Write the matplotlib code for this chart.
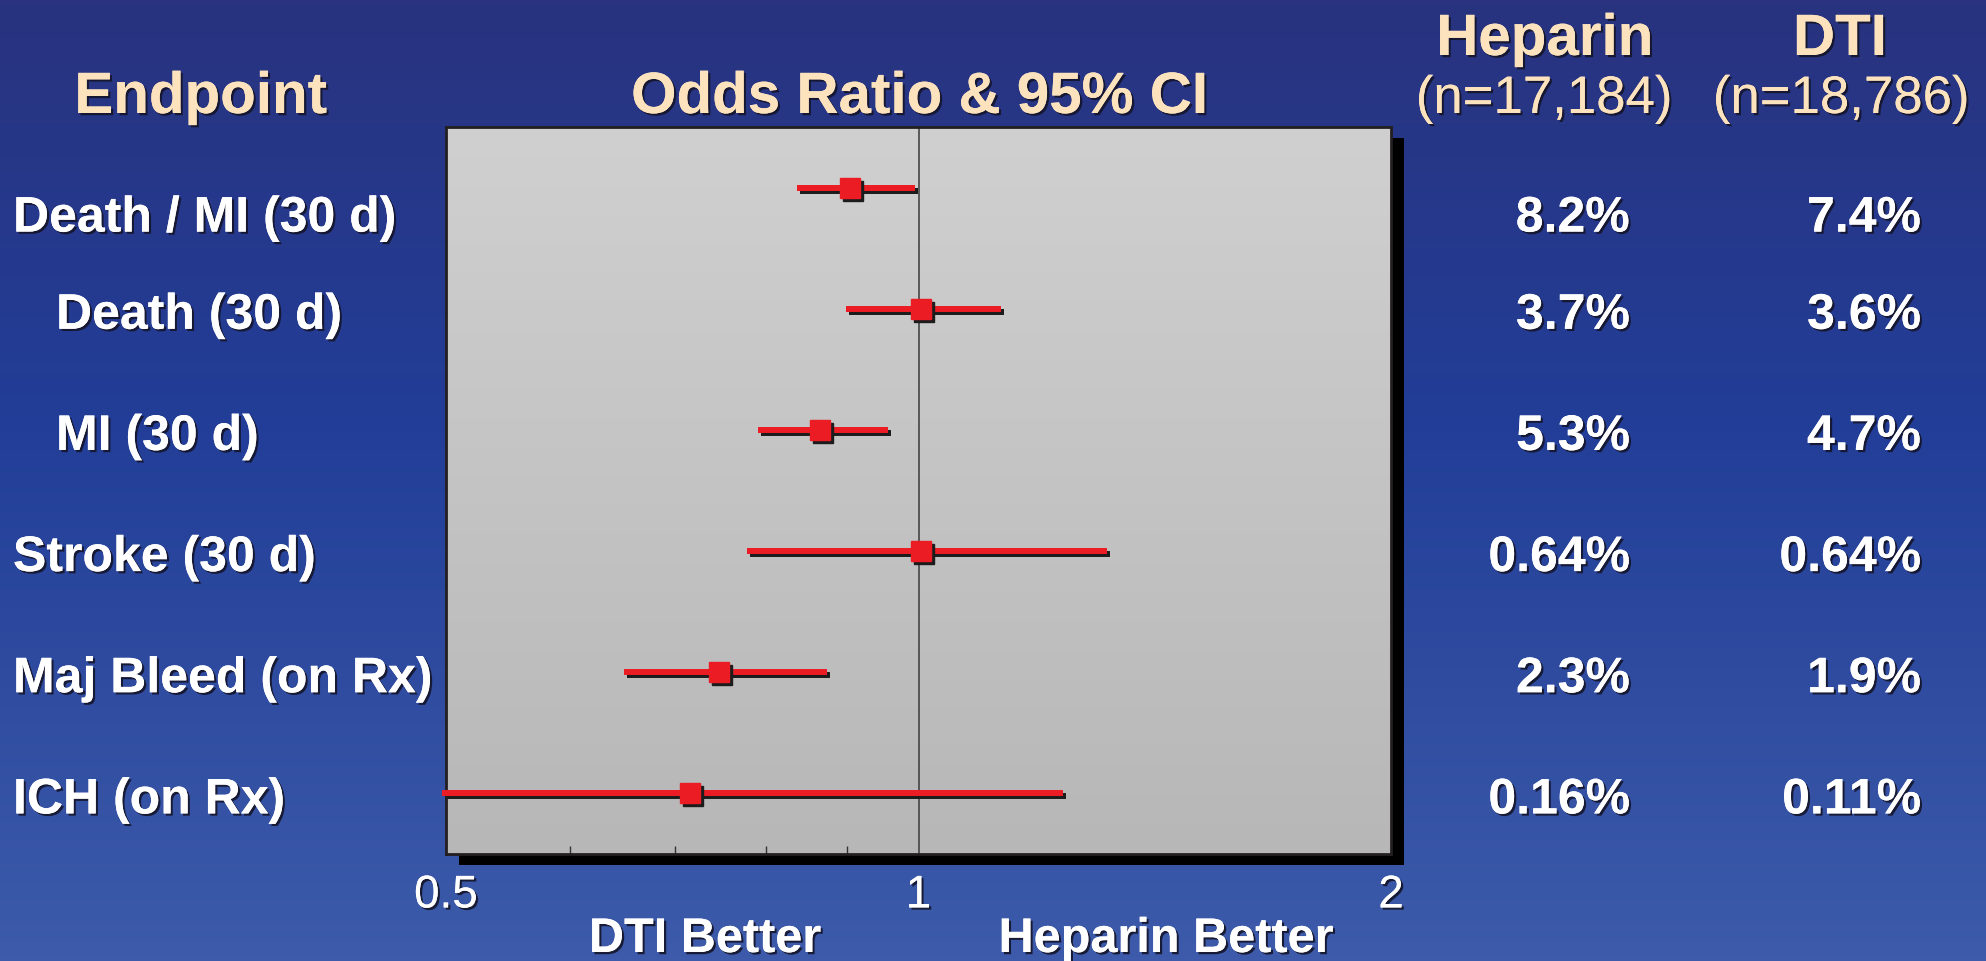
import numpy as np
import matplotlib
matplotlib.use('Agg')
import matplotlib.pyplot as plt
import matplotlib.patheffects as pe
import matplotlib.transforms as mtransforms
from matplotlib.colors import LinearSegmentedColormap
from matplotlib.patches import Rectangle
from matplotlib.ticker import NullFormatter

# values
endpoints = ['Death / MI (30 d)', 'Death (30 d)', 'MI (30 d)',
             'Stroke (30 d)', 'Maj Bleed (on Rx)', 'ICH (on Rx)']
indented = [False, True, True, False, False, False]
odds_ratio = [0.904, 1.003, 0.866, 1.003, 0.746, 0.715]
ci_low = [0.837, 0.899, 0.790, 0.778, 0.649, 0.497]
ci_high = [0.995, 1.128, 0.956, 1.319, 0.875, 1.237]
heparin_pct = ['8.2%', '3.7%', '5.3%', '0.64%', '2.3%', '0.16%']
dti_pct = ['7.4%', '3.6%', '4.7%', '0.64%', '1.9%', '0.11%']
heparin_n = '(n=17,184)'
dti_n = '(n=18,786)'
x_ticks = [0.5, 1, 2]
x_ticklabels = ['0.5', '1', '2']
x_minor_ticks = [0.6, 0.7, 0.8, 0.9]

# colours
cream = '#FCE3BE'
red = '#EC1C24'
W, H = 1986, 961  # output size in pixels


def fx(px):
    '''pixel x -> figure fraction'''
    return px / W


def fy(py):
    '''pixel y (from top) -> figure fraction'''
    return 1 - py / H


def shadow(dx=1.6):
    '''dark drop shadow used on all slide text'''
    return [pe.withSimplePatchShadow(offset=(dx, -dx), shadow_rgbFace='#15152a',
                                     alpha=0.9), pe.Normal()]


plt.rcParams['font.family'] = ['Liberation Sans', 'DejaVu Sans']

fig = plt.figure(figsize=(W / 100, H / 100), dpi=100)

# slide background (vertical blue gradient)
ax_bg = fig.add_axes([0, 0, 1, 1], zorder=-10)
bg_cmap = LinearSegmentedColormap.from_list(
    'slide', [(0, '#29337F'), (0.45, '#223E98'), (1, '#3D5BAA')])
ax_bg.imshow(np.linspace(0, 1, 256).reshape(-1, 1), cmap=bg_cmap,
             aspect='auto', extent=[0, 1, 0, 1], origin='upper')
ax_bg.set_xlim(0, 1)
ax_bg.set_ylim(0, 1)
ax_bg.axis('off')

# plot box in pixels: left, top, right, bottom
box_l, box_t, box_r, box_b = 446, 127, 1391, 854
box = [fx(box_l), fy(box_b), fx(box_r) - fx(box_l), fy(box_t) - fy(box_b)]

# black drop shadow of the box
ax_bg.add_patch(Rectangle((fx(box_l + 13), fy(box_b + 11)), box[2], box[3],
                          facecolor='black', edgecolor='none'))

# grey gradient inside the box
ax_grad = fig.add_axes(box, zorder=-1)
grey_cmap = LinearSegmentedColormap.from_list('box', ['#D0D0D0', '#B7B7B7'])
ax_grad.imshow(np.linspace(0, 1, 256).reshape(-1, 1), cmap=grey_cmap,
               aspect='auto', extent=[0, 1, 0, 1], origin='upper')
ax_grad.axis('off')

ax = fig.add_axes(box, zorder=1)
ax.set_facecolor('none')
ax.set_xscale('log')
rows = np.arange(len(endpoints))

ax.axvline(1, color='#3a3a3a', lw=1.1, zorder=1)

sh = mtransforms.offset_copy(ax.transData, fig=fig, x=3, y=-3, units='dots')
for i_row in rows:
    ax.plot([ci_low[i_row], ci_high[i_row]], [i_row, i_row], color='#1c1c1c',
            lw=4.3, solid_capstyle='butt', transform=sh, clip_on=False,
            zorder=2)
    ax.plot([ci_low[i_row], ci_high[i_row]], [i_row, i_row], color=red,
            lw=4.3, solid_capstyle='butt', clip_on=False, zorder=3)
    ax.plot(odds_ratio[i_row], i_row, 's', ms=15, color='#1c1c1c',
            transform=sh, zorder=4)
    ax.plot(odds_ratio[i_row], i_row, 's', ms=15, color=red, mec=red,
            zorder=5)

ax.set_xlim(0.5, 2)
ax.set_ylim(len(endpoints) - 0.5, -0.5)
ax.set_yticks([])
ax.set_xticks(x_ticks)
ax.set_xticklabels(x_ticklabels)
ax.set_xticks(x_minor_ticks, minor=True)
ax.xaxis.set_minor_formatter(NullFormatter())
ax.tick_params(axis='x', which='major', length=0, pad=14, labelsize=33,
               labelcolor='white')
ax.tick_params(axis='x', which='minor', direction='in', length=5.5,
               width=1, color='#333333')
for lbl in ax.get_xticklabels():
    lbl.set_family(['Liberation Sans Narrow', 'Liberation Sans'])
    lbl.set_path_effects(shadow())
for spine in ax.spines.values():
    spine.set_linewidth(2)
    spine.set_color('#231F20')

# header row
fig.text(fx(201), fy(113), 'Endpoint', ha='center', va='baseline',
         fontsize=42, fontweight='bold', color=cream, path_effects=shadow())
fig.text(fx(920), fy(113), 'Odds Ratio & 95% CI', ha='center',
         va='baseline', fontsize=42, fontweight='bold', color=cream,
         path_effects=shadow())
fig.text(fx(1545), fy(55), 'Heparin', ha='center', va='baseline',
         fontsize=42, fontweight='bold', color=cream, path_effects=shadow())
fig.text(fx(1544), fy(113), heparin_n, ha='center', va='baseline',
         fontsize=38, color=cream, path_effects=shadow())
fig.text(fx(1840), fy(55), 'DTI', ha='center', va='baseline',
         fontsize=42, fontweight='bold', color=cream, path_effects=shadow())
fig.text(fx(1841), fy(113), dti_n, ha='center', va='baseline',
         fontsize=38, color=cream, path_effects=shadow())

# row labels and percentages, aligned with each row of the plot
row_tr = mtransforms.blended_transform_factory(fig.transFigure, ax.transData)
for i_row in rows:
    drop = 20 + (24 if i_row == 0 else 0)  # first row sits a bit lower
    tr = mtransforms.offset_copy(row_tr, fig=fig, y=-drop, units='dots')
    x_lab = fx(56) if indented[i_row] else fx(13)
    fig.text(x_lab, i_row, endpoints[i_row], ha='left', va='baseline',
             fontsize=36, fontweight='bold', color='white', transform=tr,
             path_effects=shadow())
    fig.text(fx(1630), i_row, heparin_pct[i_row], ha='right', va='baseline',
             fontsize=36, fontweight='bold', color='white', transform=tr,
             path_effects=shadow())
    fig.text(fx(1921), i_row, dti_pct[i_row], ha='right', va='baseline',
             fontsize=36, fontweight='bold', color='white', transform=tr,
             path_effects=shadow())

# direction labels under the axis
fig.text(fx(705), fy(952), 'DTI Better', ha='center', va='baseline',
         fontsize=35, fontweight='bold', color='white', path_effects=shadow())
fig.text(fx(1166), fy(952), 'Heparin Better', ha='center', va='baseline',
         fontsize=35, fontweight='bold', color='white', path_effects=shadow())

fig.savefig('out.png', dpi=100)
